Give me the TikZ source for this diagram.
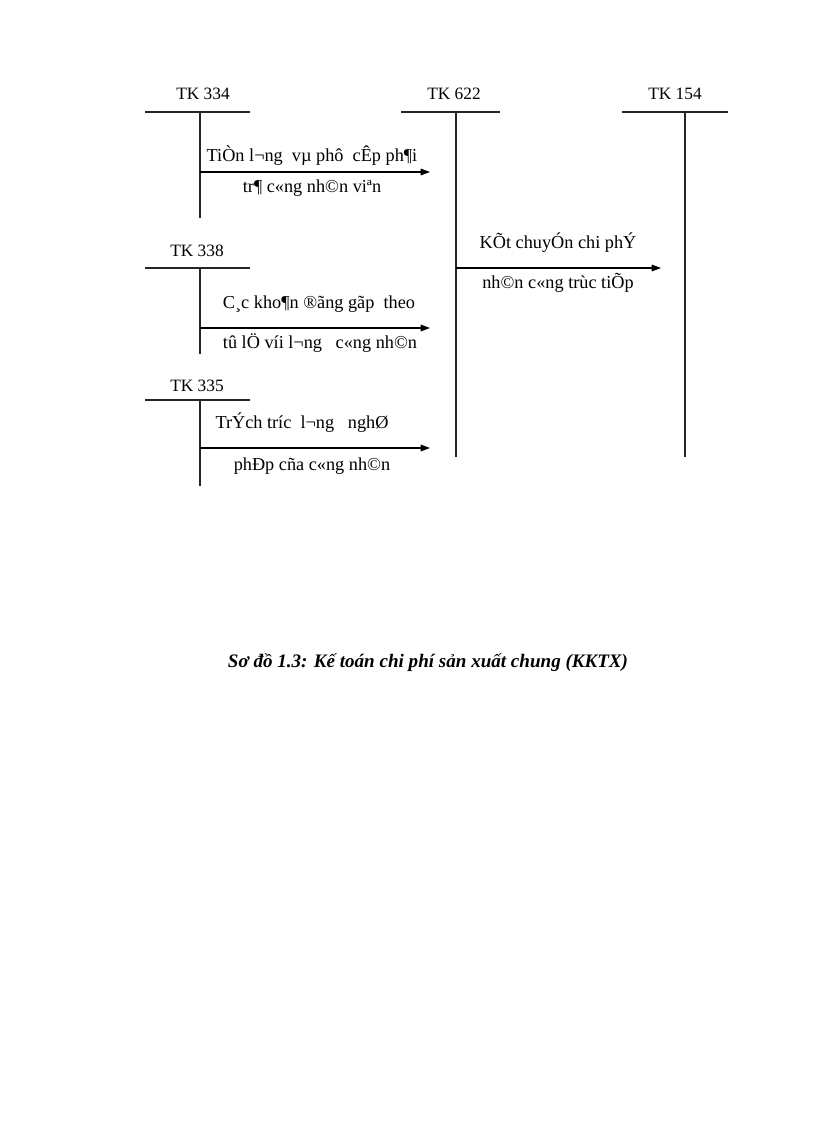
\documentclass[tikz,border=0pt]{standalone}
\usepackage{fontspec}
\setmainfont{Liberation Serif}
\usetikzlibrary{arrows.meta}
\begin{document}
\begin{tikzpicture}[x=0.75pt,y=-0.75pt,
  font=\fontsize{13}{15}\selectfont,
  acc/.style={inner sep=0pt, anchor=base},
  lbl/.style={inner sep=0pt, anchor=base, font=\fontsize{13.7}{16}\selectfont},
  tline/.style={line width=0.8pt, draw=black!85},
  flow/.style={line width=0.8pt, draw=black, -{Triangle[length=7pt,width=5pt]}}]
\useasboundingbox[fill=white] (0,0) rectangle (816,1123);

% account titles
\node[acc] (tk334) at (203,100) {TK 334};
\node[acc] (tk622) at (454,100) {TK 622};
\node[acc] (tk154) at (675,100) {TK 154};
\node[acc] (tk338) at (197,257) {TK 338};
\node[acc] (tk335) at (197,391) {TK 335};

% T-account coordinates
\coordinate (h334l) at (145,112); \coordinate (h334r) at (250,112);
\coordinate (v334t) at (200,112); \coordinate (v334b) at (200,218);
\coordinate (h622l) at (401,112); \coordinate (h622r) at (500,112);
\coordinate (v622t) at (456,112); \coordinate (v622b) at (456,457);
\coordinate (h154l) at (622,112); \coordinate (h154r) at (728,112);
\coordinate (v154t) at (685,112); \coordinate (v154b) at (685,457);
\coordinate (h338l) at (145,268); \coordinate (h338r) at (250,268);
\coordinate (v338t) at (200,268); \coordinate (v338b) at (200,354);
\coordinate (h335l) at (145,400); \coordinate (h335r) at (250,400);
\coordinate (v335t) at (200,400); \coordinate (v335b) at (200,486);

\draw[tline] (h334l) -- (h334r); \draw[tline] (v334t) -- (v334b);
\draw[tline] (h622l) -- (h622r); \draw[tline] (v622t) -- (v622b);
\draw[tline] (h154l) -- (h154r); \draw[tline] (v154t) -- (v154b);
\draw[tline] (h338l) -- (h338r); \draw[tline] (v338t) -- (v338b);
\draw[tline] (h335l) -- (h335r); \draw[tline] (v335t) -- (v335b);

% flows
\coordinate (f1s) at (200,172); \coordinate (f1e) at (430,172);
\coordinate (f2s) at (200,328); \coordinate (f2e) at (430,328);
\coordinate (f3s) at (200,448); \coordinate (f3e) at (430,448);
\coordinate (f4s) at (456,268); \coordinate (f4e) at (661,268);
\draw[flow] (f1s) -- (f1e);
\draw[flow] (f2s) -- (f2e);
\draw[flow] (f3s) -- (f3e);
\draw[flow] (f4s) -- (f4e);

% flow labels
\node[lbl] (l1a) at (312,162) {TiÒn l¬ng\ \ vµ phô\ \ cÊp ph¶i};
\node[lbl] (l1b) at (312,193) {tr¶ c«ng nh©n viªn};
\node[lbl] (l2a) at (319,308) {C¸c kho¶n ®ãng gãp\ \ theo};
\node[lbl] (l2b) at (320,348) {tû lÖ víi l¬ng\ \ \ c«ng nh©n};
\node[lbl] (l3a) at (302,428) {TrÝch tríc\ \ l¬ng\ \ \ nghØ};
\node[lbl] (l3b) at (312,470) {phÐp cña c«ng nh©n};
\node[lbl] (l4a) at (558,248) {KÕt chuyÓn chi phÝ};
\node[lbl] (l4b) at (558,288) {nh©n c«ng trùc tiÕp};

% caption
\node[lbl, font=\fontsize{14.3}{17}\selectfont\bfseries\itshape] (cap) at (428,667)
  {Sơ đồ 1.3: Kế toán chi phí sản xuất chung (KKTX)};
\end{tikzpicture}
\end{document}
